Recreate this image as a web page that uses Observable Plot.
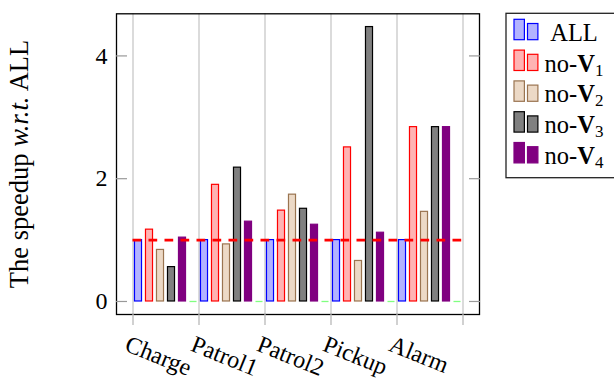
<!DOCTYPE html>
<html><head><meta charset="utf-8">
<script src="https://cdn.jsdelivr.net/npm/d3@7"></script>
<script src="https://cdn.jsdelivr.net/npm/@observablehq/plot@0.6"></script>
<style>
html,body{margin:0;padding:0;background:#fff;}
#wrap{position:relative;width:614px;height:381px;overflow:hidden;font-family:"Liberation Serif",serif;}
#overlay{position:absolute;left:0;top:0;pointer-events:none;}
</style>
</head><body>
<div id="wrap"></div>
<script>
// ---- data ----
const categories = ["Charge", "Patrol1", "Patrol2", "Pickup", "Alarm"];
const seriesNames = ["ALL", "no-V1", "no-V2", "no-V3", "no-V4"];
const ALL  = [1.00, 1.00, 1.00, 1.00, 1.00];
const noV1 = [1.17, 1.90, 1.48, 2.51, 2.84];
const noV2 = [0.84, 0.93, 1.74, 0.66, 1.46];
const noV3 = [0.56, 2.18, 1.51, 4.47, 2.84];
const noV4 = [1.04, 1.30, 1.25, 1.12, 2.84];
const spacer = [0, 0, 0, 0, 0];
const baseline = 1;
const yTicks = [0, 2, 4];
const legendSubs = ["", "1", "2", "3", "4"];

// ---- styles ----
const fills   = ["#b3b3ff", "#ffb3b3", "#ecd9c6", "#808080", "#800080"];
const strokes = ["#0000ff", "#ff0000", "#9a7450", "#000000", "#800080"];
const spacerColor = "#80ff80";

const series = [ALL, noV1, noV2, noV3, noV4];
const slots = series.length + 1; // + spacer slot
const rows = [];
categories.forEach((c, g) => {
  series.forEach((vals, s) => {
    rows.push({cat: c, s, x1: g * slots + s + 0.18, x2: g * slots + s + 0.82, y: vals[g]});
  });
});
const spacerRows = categories.map((c, g) => ({cat: c, x1: g * slots + 5 + 0.18, x2: g * slots + 5 + 0.82, y: spacer[g]}));
const nSlots = categories.length * slots;
const xTicks = d3.range(0, nSlots + 1, slots);
const labelTicks = categories.map((c, g) => g * slots);

const font = "'Liberation Serif', serif";
const chart = Plot.plot({
  width: 614, height: 381,
  marginLeft: 116, marginRight: 135, marginTop: 13.3, marginBottom: 67,
  x: {domain: [-1.5, nSlots + 1.5], axis: null},
  y: {domain: [-0.212, 4.686], axis: null},
  style: {fontFamily: font, fontSize: "23px", color: "black", background: "white"},
  marks: [
    Plot.gridX(xTicks, {stroke: "#c8c8c8", strokeOpacity: 1, strokeWidth: 1.3}),
    Plot.rect(rows, {x1: "x1", x2: "x2", y1: 0, y2: "y",
      fill: d => fills[d.s], stroke: d => strokes[d.s], strokeWidth: 1.2}),
    Plot.ruleY(spacerRows, {x1: "x1", x2: "x2", y: "y", stroke: spacerColor, strokeWidth: 1.3}),
    Plot.ruleY([baseline], {x1: xTicks[0], x2: xTicks[xTicks.length - 1], stroke: "#ff0000",
      strokeWidth: 2.6, strokeDasharray: "8.7,7.3"}),
    Plot.frame({stroke: "black", strokeWidth: 1.3}),
    Plot.axisY(yTicks, {anchor: "left", tickSize: -11, fill: "none", stroke: "#999", strokeWidth: 1.2, label: null}),
    Plot.axisY(yTicks, {anchor: "right", tickSize: -11, fill: "none", stroke: "#999", strokeWidth: 1.2, label: null}),
    Plot.axisY(yTicks, {anchor: "left", tickSize: 0, tickPadding: 9, fontSize: 24, tickFormat: d3.format("d"), label: null}),
    Plot.axisX(xTicks, {tickSize: 11, fill: "none", stroke: "#b8b8b8", strokeWidth: 1.3, label: null}),
    Plot.axisX(labelTicks, {tickSize: 0, tickPadding: 20, tickRotate: 22, textAnchor: "start", lineAnchor: "top",
      dx: -3, fontSize: 24, tickFormat: v => categories[Math.round(v / slots)], label: null})
  ]
});
const wrap = document.getElementById("wrap");
wrap.appendChild(chart);

// ---- overlay: y label + legend ----
const svg = d3.select(wrap).append("svg").attr("id", "overlay").attr("width", 614).attr("height", 381)
  .attr("font-family", font);
const yl = svg.append("text").attr("transform", "translate(28,164) rotate(-90)")
  .attr("text-anchor", "middle").attr("font-size", 26.5);
yl.append("tspan").text("The speedup ");
yl.append("tspan").attr("font-style", "italic").text("w.r.t.");
yl.append("tspan").text(" ALL");

const lg = svg.append("g");
lg.append("rect").attr("x", 506).attr("y", 13.3).attr("width", 130).attr("height", 164.4)
  .attr("fill", "white").attr("stroke", "#222").attr("stroke-width", 1.3);
seriesNames.forEach((name, i) => {
  const dy = i * 30.8;
  lg.append("rect").attr("x", 514).attr("y", 19.3 + dy).attr("width", 10.4).attr("height", 20.4)
    .attr("fill", fills[i]).attr("stroke", strokes[i]).attr("stroke-width", 1.2);
  lg.append("rect").attr("x", 527.5).attr("y", 23.5 + dy).attr("width", 10.4).attr("height", 16.2)
    .attr("fill", fills[i]).attr("stroke", strokes[i]).attr("stroke-width", 1.2);
  const t = lg.append("text").attr("x", 574).attr("y", 40.7 + dy).attr("text-anchor", "middle").attr("font-size", 24.5);
  if (i === 0) {
    t.append("tspan").text(name);
  } else {
    t.append("tspan").text("no-");
    t.append("tspan").attr("font-weight", "bold").text("V");
    t.append("tspan").attr("font-size", 17).attr("dy", 4).text(legendSubs[i]);
  }
});
</script>
</body></html>
